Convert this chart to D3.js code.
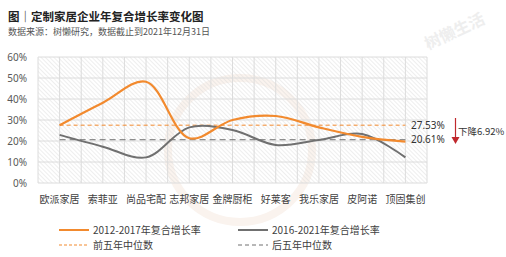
<!DOCTYPE html>
<html>
<head>
<meta charset="utf-8">
<script src="https://cdn.jsdelivr.net/npm/d3@7"></script>
<style>
  body { margin: 0; background: #fff; }
  svg { font-family: "Noto Sans CJK SC", "Noto Sans", sans-serif; }
</style>
</head>
<body>
<div id="chart"></div>
<script>
// données
const companies = ["欧派家居", "索菲亚", "尚品宅配", "志邦家居", "金牌厨柜", "好莱客", "我乐家居", "皮阿诺", "顶固集创"];
const cagr_2012_2017 = [27.5, 38.2, 48.2, 21.3, 30.0, 31.9, 26.5, 22.0, 19.7];
const cagr_2016_2021 = [22.9, 17.3, 12.2, 26.5, 25.2, 18.1, 20.5, 23.3, 12.2];
const median_first = 27.53;
const median_last = 20.61;
const yTicks = [0, 10, 20, 30, 40, 50, 60];

const width = 506, height = 257;
const orange = "#f28a2e", gray = "#707070";

const svg = d3.select("#chart").append("svg")
  .attr("width", width).attr("height", height);

// motif hachuré
const defs = svg.append("defs");
const pat = defs.append("pattern")
  .attr("id", "hatch").attr("patternUnits", "userSpaceOnUse")
  .attr("width", 3).attr("height", 3)
  .attr("patternTransform", "rotate(-45)");
pat.append("line").attr("x1", 0).attr("y1", 0).attr("x2", 0).attr("y2", 3)
  .attr("stroke", "#d4d4d4").attr("stroke-width", 0.8);

// titre
svg.append("text").attr("x", 8).attr("y", 21)
  .attr("font-size", "11.5px").attr("font-weight", "bold").attr("fill", "#222")
  .text("图｜定制家居企业年复合增长率变化图");
svg.append("text").attr("x", 8).attr("y", 35)
  .attr("font-size", "9px").attr("fill", "#555")
  .text("数据来源：树懒研究，数据截止到2021年12月31日");

// filigrane
svg.append("text").attr("transform", "translate(428,50) rotate(-25)")
  .attr("font-size", "16px").attr("font-weight", "bold").attr("fill", "#eeeeee")
  .text("树懒生活");
svg.append("circle").attr("cx", 240).attr("cy", 150).attr("r", 72)
  .attr("fill", "none").attr("stroke", "#faf3ee").attr("stroke-width", 8);

const plotLeft = 38, plotRight = 427, plotTop = 57, plotBottom = 183;

const x = d3.scaleBand().domain(companies).range([plotLeft, plotRight]);
const y = d3.scaleLinear().domain([0, 60]).range([plotBottom, plotTop]);

svg.append("rect").attr("x", plotLeft).attr("y", plotTop)
  .attr("width", plotRight - plotLeft).attr("height", plotBottom - plotTop)
  .attr("fill", "url(#hatch)");

// grille
const halfSteps = d3.range(0, companies.length * 2 + 1).map(i => plotLeft + i * x.bandwidth() / 2);
svg.append("g").selectAll("line").data(halfSteps).enter().append("line")
  .attr("x1", d => d).attr("x2", d => d).attr("y1", plotTop).attr("y2", plotBottom)
  .attr("stroke", "#dcdcdc").attr("stroke-width", 1);
svg.append("g").selectAll("line").data(yTicks).enter().append("line")
  .attr("x1", plotLeft).attr("x2", plotRight).attr("y1", d => y(d)).attr("y2", d => y(d))
  .attr("stroke", "#dcdcdc").attr("stroke-width", 1);

// axes
const yAxis = svg.append("g").attr("transform", `translate(${plotLeft - 11},0)`)
  .call(d3.axisLeft(y).tickValues(yTicks).tickSize(0).tickPadding(0).tickFormat(d => d + "%"));
yAxis.select(".domain").remove();
yAxis.selectAll("text").attr("font-size", "10px").attr("fill", "#595959")
  .attr("font-family", "'Noto Sans', sans-serif");

const xAxis = svg.append("g").attr("transform", `translate(0,${plotBottom})`)
  .call(d3.axisBottom(x).tickSize(0).tickPadding(13));
xAxis.select(".domain").remove();
xAxis.selectAll("text").attr("font-size", "10px").attr("fill", "#404040")
  .attr("font-family", "'Noto Sans CJK SC', sans-serif");

// lignes médianes
const cx = d => x(d) + x.bandwidth() / 2;
const x0 = cx(companies[0]), x1 = cx(companies[companies.length - 1]);
svg.append("line").attr("x1", x0).attr("x2", x1)
  .attr("y1", y(median_first)).attr("y2", y(median_first))
  .attr("stroke", orange).attr("stroke-width", 1).attr("stroke-dasharray", "4,3");
svg.append("line").attr("x1", x0).attr("x2", x1)
  .attr("y1", y(median_last)).attr("y2", y(median_last))
  .attr("stroke", gray).attr("stroke-width", 1).attr("stroke-dasharray", "6,4");

// courbes
const line = d3.line().x((d, i) => cx(companies[i])).y(d => y(d))
  .curve(d3.curveCatmullRom.alpha(0.5));
svg.append("path").datum(cagr_2016_2021).attr("d", line)
  .attr("fill", "none").attr("stroke", gray).attr("stroke-width", 2);
svg.append("path").datum(cagr_2012_2017).attr("d", line)
  .attr("fill", "none").attr("stroke", orange).attr("stroke-width", 2.2);

// étiquettes des médianes
svg.append("text").attr("x", 411).attr("y", y(median_first) + 3.5)
  .attr("font-size", "10px").attr("fill", "#333").attr("font-family", "'Noto Sans', sans-serif")
  .text(median_first.toFixed(2) + "%");
svg.append("text").attr("x", 411).attr("y", y(median_last) + 3.5)
  .attr("font-size", "10px").attr("fill", "#333").attr("font-family", "'Noto Sans', sans-serif")
  .text(median_last.toFixed(2) + "%");

// flèche
svg.append("line").attr("x1", 455.5).attr("x2", 455.5).attr("y1", 118).attr("y2", 138)
  .attr("stroke", "#c0282d").attr("stroke-width", 1.2);
svg.append("path").attr("d", "M451.5,137 L459.5,137 L455.5,144 Z").attr("fill", "#c0282d");
svg.append("text").attr("x", 458).attr("y", 135)
  .attr("font-size", "9.5px").attr("fill", "#333")
  .text("下降" + (median_first - median_last).toFixed(2) + "%");

// légende
const legend = [
  { x: 59, y: 230, color: orange, dash: null, label: "2012-2017年复合增长率" },
  { x: 238, y: 230, color: gray, dash: null, label: "2016-2021年复合增长率" },
  { x: 59, y: 245, color: orange, dash: "3,2", label: "前五年中位数" },
  { x: 238, y: 245, color: gray, dash: "4,3", label: "后五年中位数" }
];
const lg = svg.append("g").selectAll("g").data(legend).enter().append("g");
lg.append("line").attr("x1", d => d.x).attr("x2", d => d.x + 30)
  .attr("y1", d => d.y).attr("y2", d => d.y)
  .attr("stroke", d => d.color).attr("stroke-width", d => d.dash ? 1 : 2)
  .attr("stroke-dasharray", d => d.dash);
lg.append("text").attr("x", d => d.x + 34).attr("y", d => d.y + 3.5)
  .attr("font-size", "10px").attr("fill", "#404040").text(d => d.label);
</script>
</body>
</html>
